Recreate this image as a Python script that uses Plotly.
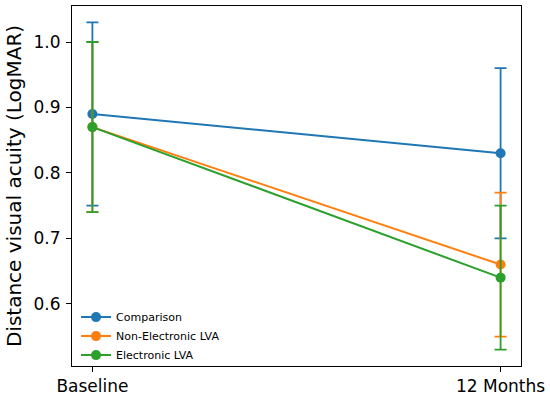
import plotly.graph_objects as go

# time points
timepoints = ["Baseline", "12 Months"]
x_pos = [0, 1]

# mean LogMAR and error (half-width) per group
comparison = [0.89, 0.83]
comparison_err = [0.14, 0.13]
non_electronic = [0.87, 0.66]
non_electronic_err = [0.13, 0.11]
electronic = [0.87, 0.64]
electronic_err = [0.13, 0.11]

groups = [
    ("Comparison", comparison, comparison_err, "#1f77b4"),
    ("Non-Electronic LVA", non_electronic, non_electronic_err, "#ff7f0e"),
    ("Electronic LVA", electronic, electronic_err, "#2ca02c"),
]

fig = go.Figure()
for name, vals, errs, col in groups:
    fig.add_trace(go.Scatter(
        x=x_pos, y=vals, name=name, mode="lines+markers",
        line=dict(color=col, width=2),
        marker=dict(color=col, size=10),
        error_y=dict(type="data", array=errs, visible=True,
                     color=col, thickness=1.8, width=6),
    ))

fig.update_xaxes(
    range=[-0.05, 1.05], tickvals=x_pos, ticktext=timepoints,
    showgrid=False, zeroline=False, showline=True, mirror=True,
    linecolor="black", linewidth=1, ticks="outside", ticklen=5,
    tickcolor="black", tickfont=dict(size=17, color="black"),
)
fig.update_yaxes(
    range=[0.505, 1.055], tickvals=[0.6, 0.7, 0.8, 0.9, 1.0],
    tickformat=".1f", showgrid=False, zeroline=False, showline=True,
    mirror=True, linecolor="black", linewidth=1, ticks="outside",
    ticklen=5, ticklabelstandoff=2, tickcolor="black",
    tickfont=dict(size=17, color="black"),
    title=dict(text="Distance visual acuity (LogMAR)",
               font=dict(size=20, color="black"), standoff=6),
)

fig.update_layout(
    width=550, height=401,
    margin=dict(l=72, r=27, t=5, b=29),
    plot_bgcolor="white", paper_bgcolor="white",
    font=dict(family="DejaVu Sans", color="black"),
    legend=dict(x=0.009, y=-0.01, xanchor="left", yanchor="bottom",
                bgcolor="rgba(255,255,255,0)", font=dict(size=11),
                tracegroupgap=0, itemwidth=30),
)

# page body has a default margin; drop it so the figure sits at 0,0
fig.write_html("out.html", config={"displayModeBar": False},
               post_script="document.body.style.margin='0';")
